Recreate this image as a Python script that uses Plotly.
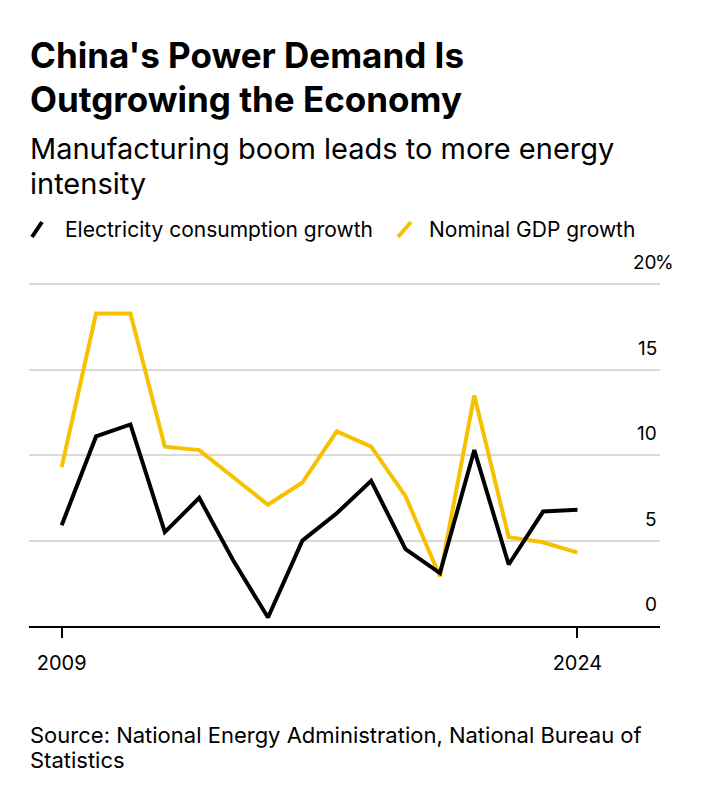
import plotly.graph_objects as go

years = list(range(2009, 2025))
electricity = [5.9, 11.1, 11.8, 5.5, 7.5, 3.8, 0.5, 5.0, 6.6, 8.5, 4.5, 3.1, 10.3, 3.6, 6.7, 6.8]
gdp = [9.3, 18.3, 18.3, 10.5, 10.3, 8.7, 7.1, 8.4, 11.4, 10.5, 7.6, 2.9, 13.5, 5.2, 4.9, 4.3]
y_ticks = [0, 5, 10, 15, 20]
x_ticks = [2009, 2024]

title_lines = ["China's Power Demand Is", "Outgrowing the Economy"]
subtitle_lines = ["Manufacturing boom leads to more energy", "intensity"]
source_lines = ["Source: National Energy Administration, National Bureau of", "Statistics"]
legend_names = ["Electricity consumption growth", "Nominal GDP growth"]

BLACK = "#000000"
YELLOW = "#F7C100"
FONT = "Inter, 'Liberation Sans', Arial, sans-serif"

W, H = 712, 800
L, R, T, B = 29, 52, 281, 174
PW = W - L - R
PH = H - T - B


def px(x):
    return (x - L) / PW


def py(y):
    return (H - B - y) / PH


fig = go.Figure()
fig.add_trace(go.Scatter(x=years, y=gdp, mode="lines",
                         line=dict(color=YELLOW, width=4),
                         name=legend_names[1], hoverinfo="skip"))
fig.add_trace(go.Scatter(x=years, y=electricity, mode="lines",
                         line=dict(color=BLACK, width=4),
                         name=legend_names[0], hoverinfo="skip"))


def text_ann(text, x, ytop, size, bold=False):
    return dict(text=("<b>%s</b>" % text) if bold else text,
                x=px(x), y=py(ytop), xref="paper", yref="paper",
                xanchor="left", yanchor="top", align="left", showarrow=False,
                font=dict(family=FONT, size=size, color="#000"))


annotations = []
annotations.append(text_ann(title_lines[0], 28, 32, 35, bold=True))
annotations.append(text_ann(title_lines[1], 28, 76, 35, bold=True))
annotations.append(text_ann(subtitle_lines[0], 28, 129, 29))
annotations.append(text_ann(subtitle_lines[1], 28, 164, 29))
annotations.append(text_ann(legend_names[0], 63, 215, 21))
annotations.append(text_ann(legend_names[1], 427, 215, 21))
annotations.append(text_ann(source_lines[0], 28, 720, 22))
annotations.append(text_ann(source_lines[1], 28, 745, 22))

for v in y_ticks:
    annotations.append(dict(text=str(v), x=px(659), y=v, xref="paper", yref="y",
                            xanchor="right", yanchor="bottom", yshift=8, showarrow=False,
                            font=dict(family=FONT, size=19, color="#000")))
annotations.append(dict(text="%", x=px(653), y=y_ticks[-1], xref="paper", yref="y",
                        xanchor="left", yanchor="bottom", yshift=8, showarrow=False,
                        font=dict(family=FONT, size=19, color="#000")))

shapes = [
    dict(type="line", xref="paper", yref="paper", x0=px(32), y0=py(237), x1=px(42), y1=py(222),
         line=dict(color=BLACK, width=4)),
    dict(type="line", xref="paper", yref="paper", x0=px(398), y0=py(237), x1=px(411), y1=py(222),
         line=dict(color=YELLOW, width=4)),
]

fig.update_layout(
    width=W, height=H,
    margin=dict(l=L, r=R, t=T, b=B),
    paper_bgcolor="white", plot_bgcolor="white",
    showlegend=False,
    annotations=annotations,
    shapes=shapes,
    xaxis=dict(range=[2008.05, 2026.4], tickvals=x_ticks, ticktext=[str(v) for v in x_ticks],
               ticks="outside", ticklen=10, tickwidth=1.5, tickcolor="#000",
               ticklabelstandoff=8,
               showline=True, linecolor="#000", linewidth=1.5,
               showgrid=False, zeroline=False,
               tickfont=dict(family=FONT, size=20, color="#000")),
    yaxis=dict(range=[0, 20.2], tickvals=y_ticks, showticklabels=False,
               showgrid=True, gridcolor="#d9d9d9", gridwidth=1.5, zeroline=False,
               showline=False, ticks=""),
)

fig.write_html("out.html")
